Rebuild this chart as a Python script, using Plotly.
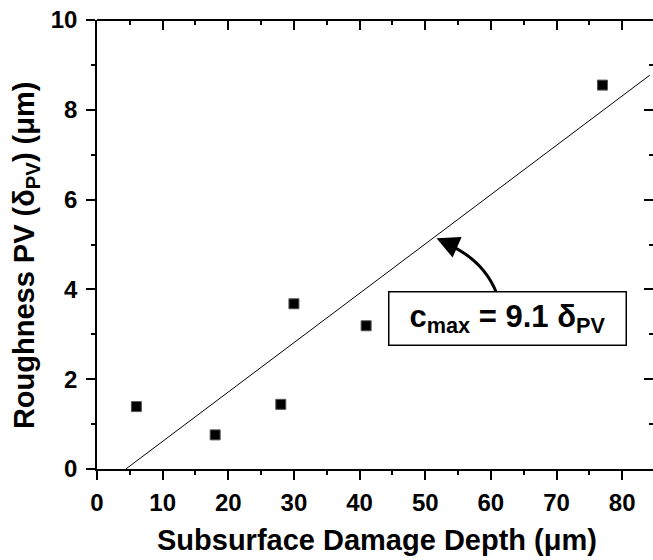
import plotly.graph_objects as go

# Data
depth_um = [6.0, 18.0, 28.0, 30.0, 41.0, 77.0]
roughness_pv_um = [1.39, 0.76, 1.44, 3.68, 3.19, 8.55]

fit_x = [4.4, 84.2]
fit_y = [0.0, 8.77]

x_ticks = [0, 10, 20, 30, 40, 50, 60, 70, 80]
y_ticks = [0, 2, 4, 6, 8, 10]

X_RANGE = [0, 84.7]
Y_RANGE = [0, 10]

FONT = "Arial, Liberation Sans, Helvetica, sans-serif"

fig = go.Figure()

# fit line drawn on the mirrored (top/right) axes, which share the same ranges
fig.add_trace(go.Scatter(
    x=fit_x, y=fit_y, mode="lines", xaxis="x2", yaxis="y2",
    line=dict(color="black", width=1),
    showlegend=False, hoverinfo="skip",
))
fig.add_trace(go.Scatter(
    x=depth_um, y=roughness_pv_um, mode="markers",
    marker=dict(symbol="square", size=10, color="black",
                line=dict(color="#555555", width=1)),
    showlegend=False,
))

axis_common = dict(
    showline=True, linecolor="black", linewidth=1.5,
    showgrid=False, zeroline=False,
    tickcolor="black", tickwidth=1.5, ticklen=9,
)

fig.update_layout(
    width=653, height=560,
    margin=dict(l=97, r=0, t=20, b=91),
    paper_bgcolor="white", plot_bgcolor="white",
    font=dict(family=FONT, color="black"),
    xaxis=dict(
        range=X_RANGE, tickvals=x_ticks, ticks="outside",
        minor=dict(dtick=5, tick0=0, ticks="outside", ticklen=4,
                   tickwidth=1.5, tickcolor="black"),
        tickfont=dict(family=FONT, size=24, weight="bold"),
        ticklabelstandoff=2, ticklabeloverflow="allow",
        **axis_common,
    ),
    yaxis=dict(
        range=Y_RANGE, tickvals=y_ticks, ticks="outside",
        minor=dict(dtick=1, tick0=0, ticks="outside", ticklen=4,
                   tickwidth=1.5, tickcolor="black"),
        tickfont=dict(family=FONT, size=24, weight="bold"),
        ticklabelstandoff=4, ticklabeloverflow="allow",
        **axis_common,
    ),
    xaxis2=dict(
        overlaying="x", side="top", anchor="free", position=1,
        range=X_RANGE,
        tickvals=x_ticks, ticks="inside", showticklabels=False,
        minor=dict(dtick=5, tick0=0, ticks="inside", ticklen=4,
                   tickwidth=1.5, tickcolor="black"),
        **axis_common,
    ),
    yaxis2=dict(
        overlaying="y", side="right", anchor="free", position=1,
        range=Y_RANGE,
        tickvals=y_ticks, ticks="inside", showticklabels=False,
        minor=dict(dtick=1, tick0=0, ticks="inside", ticklen=4,
                   tickwidth=1.5, tickcolor="black"),
        **{**axis_common, "showline": False},
    ),
)

# Axis titles
fig.add_annotation(
    text="Subsurface Damage Depth (μm)",
    xref="paper", yref="paper", x=0.5036, y=-0.159,
    xanchor="center", yanchor="middle", showarrow=False,
    font=dict(family=FONT, size=29, weight="bold"),
)
fig.add_annotation(
    text="Roughness PV (δ<sub>PV</sub>) (μm)",
    xref="paper", yref="paper", x=-0.128, y=0.476,
    xanchor="center", yanchor="middle", showarrow=False, textangle=-90,
    font=dict(family=FONT, size=29, weight="bold"),
)

# Curved arrow pointing at the fit line
fig.add_shape(
    type="path", xref="x", yref="y",
    path="M 60.86,3.92 Q 58.77,4.70 52.6,5.06",
    line=dict(color="black", width=3),
)
fig.add_annotation(
    x=51.72, y=5.14, xref="x", yref="y", text="",
    showarrow=True, arrowhead=2, arrowsize=1.5, arrowwidth=3,
    arrowcolor="black", ax=16, ay=7, standoff=0,
)

# Equation box
fig.add_annotation(
    text="c<sub>max</sub> = 9.1 δ<sub>PV</sub>",
    x=62.5, y=3.345, xref="x", yref="y",
    xanchor="center", yanchor="middle", showarrow=False,
    width=236, height=52, bgcolor="white",
    bordercolor="black", borderwidth=1.5, borderpad=0,
    font=dict(family=FONT, size=31, weight="bold"),
)

fig.write_html(
    "out.html",
    config={"displayModeBar": False},
    post_script="document.body.style.margin='0';"
                "document.body.style.overflow='hidden';",
)
